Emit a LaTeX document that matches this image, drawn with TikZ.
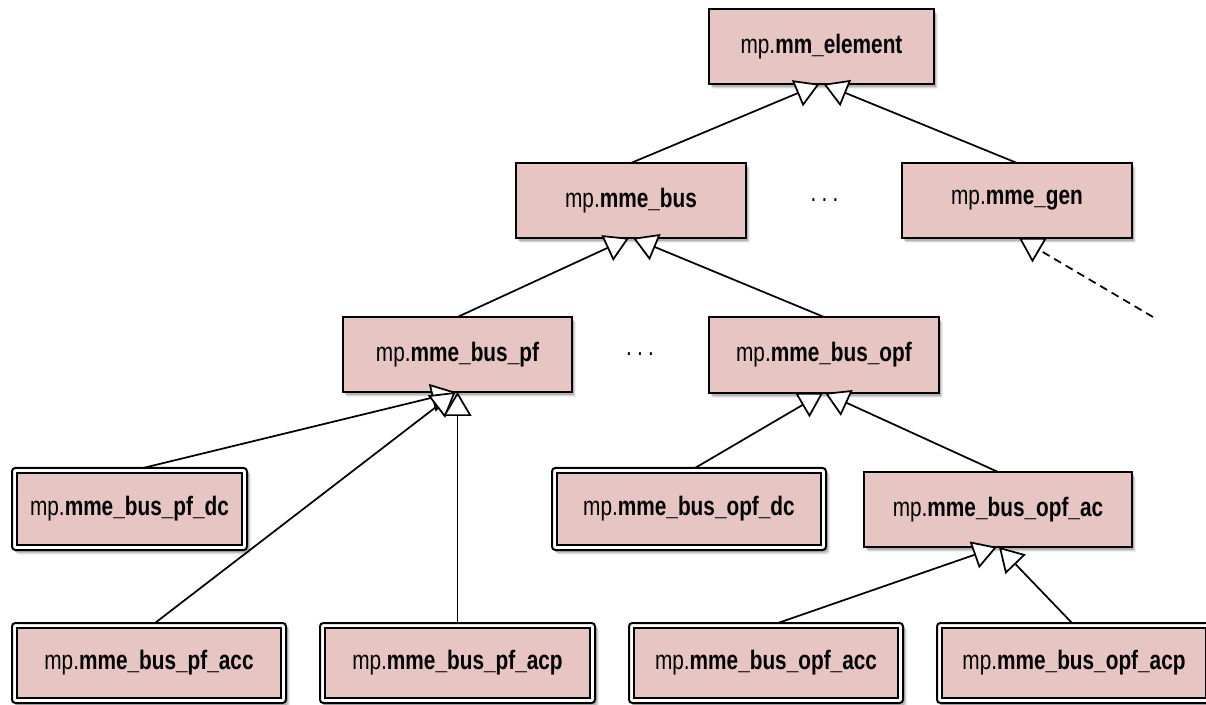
\documentclass[tikz,border=0pt]{standalone}
\usepackage{fontspec}
\setmainfont{Liberation Sans}
\newfontfamily\boxfont[FakeStretch=0.78]{Liberation Sans}
\usetikzlibrary{arrows.meta,shadows,calc}
\definecolor{pinkfill}{RGB}{230,197,194}
\tikzset{
  boxbase/.style={draw=black, line width=1.7pt, inner sep=0pt, outer sep=0pt,
    font=\boxfont\fontsize{20pt}{22pt}\selectfont,
    drop shadow={shadow xshift=3.2pt, shadow yshift=-3.6pt, fill=black, opacity=0.06},
    drop shadow={shadow xshift=2.4pt, shadow yshift=-2.8pt, fill=black, opacity=0.10},
    drop shadow={shadow xshift=1.5pt, shadow yshift=-1.9pt, fill=black, opacity=0.16}},
  sz/.style 2 args={minimum width=#1*0.75pt, minimum height=#2*0.75pt},
  cls/.style={boxbase, fill=pinkfill, rectangle},
  dcls/.style={boxbase, line width=1.5pt, fill=white, rounded corners=2.5pt,
    path picture={\draw[sharp corners, line width=1.5pt, fill=pinkfill]
      ([shift={(3.75pt,-3.75pt)}]path picture bounding box.north west) rectangle
      ([shift={(-3.75pt,3.75pt)}]path picture bounding box.south east);}},
  inh/.style={draw=black, line width=1.3pt,
    -{Triangle[length=18pt, width=21pt, fill=white]}},
  inhdash/.style={inh, dash pattern=on 6pt off 4pt},
  dotsnode/.style={inner sep=0pt, font=\boxfont\fontsize{20pt}{22pt}\selectfont}
}
\begin{document}
\begin{tikzpicture}[x=0.75pt, y=-0.75pt]
\useasboundingbox (0,0) rectangle (1206,705);
\fill[white] (0,0) rectangle (1206,705);
\clip (0,0) rectangle (1206,705);

% single-border class boxes
\node[cls, sz={225}{75}] (elem)  at (821.5,46.5) {mp.\textbf{mm\_element}};
\node[cls, sz={230}{75}] (bus)   at (631,200.5)  {mp.\textbf{mme\_bus}};
\node[cls, sz={230}{75}] (gen)   at (1017,200.5) {mp.\textbf{mme\_gen}};
\node[cls, sz={229}{75}] (pf)    at (457.5,354.5) {mp.\textbf{mme\_bus\_pf}};
\node[cls, sz={230}{76}] (opf)   at (824,355)    {mp.\textbf{mme\_bus\_opf}};
\node[cls, sz={268}{75}] (opfac) at (998,509.5)  {mp.\textbf{mme\_bus\_opf\_ac}};

% double-border (leaf) class boxes
\node[dcls, sz={235}{82}] (pfdc)   at (129.5,509) {mp.\textbf{mme\_bus\_pf\_dc}};
\node[dcls, sz={274}{82}] (opfdc)  at (689,509)   {mp.\textbf{mme\_bus\_opf\_dc}};
\node[dcls, sz={274}{80}] (pfacc)  at (149,663)   {mp.\textbf{mme\_bus\_pf\_acc}};
\node[dcls, sz={275}{80}] (pfacp)  at (457.5,663) {mp.\textbf{mme\_bus\_pf\_acp}};
\node[dcls, sz={274}{80}] (opfacc) at (766,663)   {mp.\textbf{mme\_bus\_opf\_acc}};
\node[dcls, sz={274}{80}] (opfacp) at (1074,663)  {mp.\textbf{mme\_bus\_opf\_acp}};

% ellipses
\node[dotsnode] (dots1) at (824.5,200) {.\kern4pt.\kern4pt.};
\node[dotsnode] (dots2) at (640,354) {.\kern4pt.\kern4pt.};

\coordinate (genfrom) at (1153,317);

% inheritance connectors
\draw[inh] (bus.north) -- ($(elem.south)+(-2,0)$);
\draw[inh] (gen.north) -- ($(elem.south)+(2,0)$);
\draw[inh] (pf.north) -- ($(bus.south)+(-2,0)$);
\draw[inh] (opf.north) -- ($(bus.south)+(2,0)$);
\draw[inh] ($(pfdc.north)+(13.5,0)$) -- ($(pf.south)+(-2,0)$);
\draw[inh] ($(pfacc.north)+(6,0)$) -- ($(pf.south)+(-2,0)$);
\draw[inh] (pfacp.north) -- (pf.south);
\draw[inh] ($(opfdc.north)+(6,0)$) -- ($(opf.south)+(-1,0)$);
\draw[inh] (opfac.north) -- ($(opf.south)+(1,0)$);
\draw[inh] ($(opfacc.north)+(12,0)$) -- ($(opfac.south)+(-1,0)$);
\draw[inh] ($(opfacp.north)+(-2,0)$) -- ($(opfac.south)+(1,0)$);
\draw[inhdash] (genfrom) -- ($(gen.south)+(2,0)$);
\end{tikzpicture}
\end{document}
